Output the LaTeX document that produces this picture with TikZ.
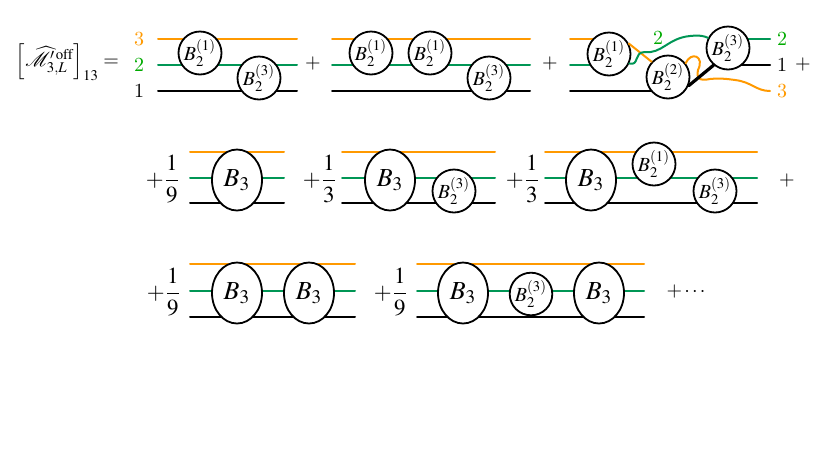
\documentclass[tikz,border=0pt]{standalone}
\usepackage{mathptmx}
\usetikzlibrary{shapes.geometric}
\definecolor{orng}{RGB}{255,153,0}
\definecolor{grn}{RGB}{0,150,85}
\definecolor{lgrn}{RGB}{0,170,0}
\tikzset{
  wire/.style={line width=1pt},
  bub/.style={circle,draw,fill=white,line width=.9pt,minimum size=21.5pt,inner sep=0pt},
  bigbub/.style={ellipse,draw,fill=white,line width=.9pt,minimum width=25pt,minimum height=30.5pt,inner sep=0pt,font=\fontsize{13}{15}\selectfont},
  coef/.style={font=\fontsize{11.5}{13}\selectfont},
}
\begin{document}
\begin{tikzpicture}[x=.5pt,y=-.5pt,line join=round,line cap=round,font=\fontsize{10}{12}\selectfont]
\useasboundingbox (0,0) rectangle (830,467);
% first row
\node[anchor=east] (lhs) at (126,62) {$\left[\widehat{\mathcal{M}}'^{\,\mathrm{off}}_{3,L}\right]_{13}=$};
\foreach \d/\xs/\xe in {A/158/297,B/332/530}
  \foreach \n/\y/\c in {3/39/orng,2/65/grn,1/91/black}{
    \coordinate (w\d\n) at (\xs,\y); \coordinate (v\d\n) at (\xe,\y);
    \draw[wire,\c] (w\d\n) -- (v\d\n);
  }
\node[text=orng] (n3) at (139,39) {3};
\node[text=lgrn] (n2) at (139,65) {2};
\node (n1) at (139,91) {1};
\node[bub] (A1) at (200,53) {$B_2^{(1)}$};
\node[bub] (A2) at (259,78) {$B_2^{(3)}$};
\node (p1) at (313,64) {$+$};
\node[bub] (B1) at (371,53) {$B_2^{(1)}$};
\node[bub] (B2) at (430,53) {$B_2^{(1)}$};
\node[bub] (B3) at (489,78) {$B_2^{(3)}$};
\node (p2) at (550,64) {$+$};
% crossed one
\coordinate (c1) at (609,54);
\coordinate (c2) at (668,77);
\coordinate (c3) at (728,48);
\coordinate (wC3) at (570,39); \coordinate (wC2) at (570,65); \coordinate (wC1) at (570,91);
\coordinate (vC2) at (770,39); \coordinate (vC1) at (770,65); \coordinate (vC3) at (770,91);
\draw[wire,orng] (wC3) -- (wC3-|c1);
\draw[wire,grn] (wC2) -- (wC2-|c1);
\draw[wire] (wC1) -- (wC1-|c2);
\draw[wire,grn] (c3|-vC2) -- (vC2);
\draw[wire] (c3|-vC1) -- (vC1);
\node[bub] (C1) at (c1) {$B_2^{(1)}$};
\node[bub] (C2) at (c2) {$B_2^{(2)}$};
\node[bub] (C3) at (c3) {$B_2^{(3)}$};
\draw[wire,orng] (C1.28) -- (C2.137);
\draw[wire,grn] (C1.-25) .. controls (640,66) and (633,52) .. (645,52)
  .. controls (662,54) and (668,38) .. (690,36) .. controls (700,35) and (704,36) .. (C3.153);
\draw[wire,orng] (C2.38) .. controls (691,51) and (705,56) .. (698,70)
  .. controls (696,79) and (700,81) .. (710,79) .. controls (720,78) and (728,79) .. (735,80)
  .. controls (752,82) and (756,91) .. (vC3);
\draw[line width=1.6pt] (C2.-23) -- (C3.230);
\node[text=lgrn] (m2) at (658,38) {2};
\node[text=lgrn] (r2) at (782,39) {2};
\node (r1) at (782,65) {1};
\node[text=orng] (r3) at (782,91) {3};
\node (p3) at (803,65) {$+$};
% second row
\foreach \d/\xs/\xe in {D/190/284,E/342/495,F/545/757}
  \foreach \n/\y/\c in {3/152/orng,2/178/grn,1/203/black}{
    \coordinate (w\d\n) at (\xs,\y); \coordinate (v\d\n) at (\xe,\y);
    \draw[wire,\c] (w\d\n) -- (v\d\n);
  }
\node[coef] (fD) at (163,179) {$\displaystyle+\frac{1}{9}$};
\node[bigbub] (D1) at (237,180) {$B_3$};
\node[coef] (fE) at (320,179) {$\displaystyle+\frac{1}{3}$};
\node[bigbub] (E1) at (390,180) {$B_3$};
\node[bub] (E2) at (454,191) {$B_2^{(3)}$};
\node[coef] (fF) at (523,179) {$\displaystyle+\frac{1}{3}$};
\node[bigbub] (F1) at (591,180) {$B_3$};
\node[bub] (F2) at (654,164) {$B_2^{(1)}$};
\node[bub] (F3) at (715,191) {$B_2^{(3)}$};
\node (p4) at (787,180) {$+$};
% third row
\foreach \d/\xs/\xe in {G/190/355,H/417/644}
  \foreach \n/\y/\c in {3/264/orng,2/291/grn,1/317/black}{
    \coordinate (w\d\n) at (\xs,\y); \coordinate (v\d\n) at (\xe,\y);
    \draw[wire,\c] (w\d\n) -- (v\d\n);
  }
\node[coef] (fG) at (164,292) {$\displaystyle+\frac{1}{9}$};
\node[bigbub] (G1) at (237,293) {$B_3$};
\node[bigbub] (G2) at (309,293) {$B_3$};
\node[coef] (fH) at (391,292) {$\displaystyle+\frac{1}{9}$};
\node[bigbub] (H1) at (463,293) {$B_3$};
\node[bub,minimum size=21pt] (H2) at (531,294) {$B_2^{(3)}$};
\node[bigbub] (H3) at (599,293) {$B_3$};
\node (p5) at (686,291) {$+\cdots$};
\end{tikzpicture}
\end{document}
